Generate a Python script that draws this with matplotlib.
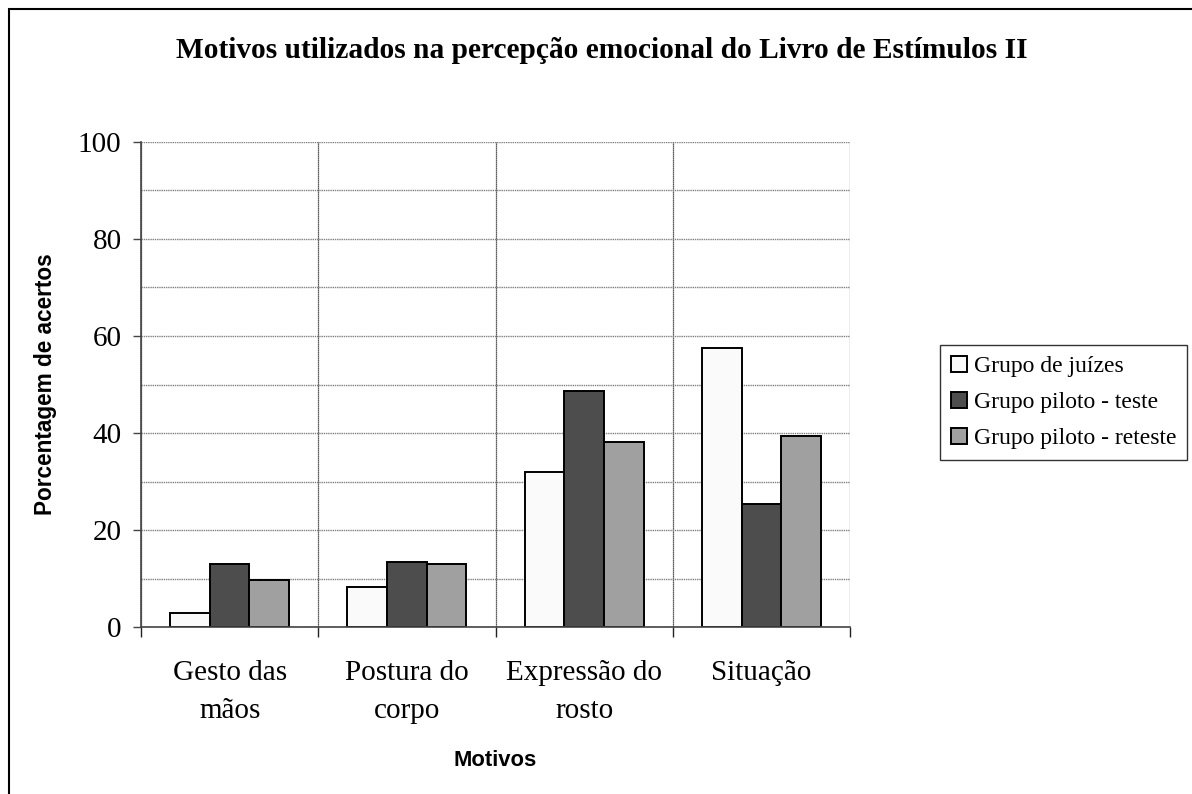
import numpy as np
import matplotlib
matplotlib.use("Agg")
import matplotlib.pyplot as plt
from matplotlib.patches import Rectangle
from matplotlib.ticker import MultipleLocator, FixedLocator

# data
categories = ["Gesto das\nmãos", "Postura do\ncorpo", "Expressão do\nrosto", "Situação"]
series_names = ["Grupo de juízes", "Grupo piloto - teste", "Grupo piloto - reteste"]
juizes = [2.8, 8.2, 32.0, 57.6]
piloto_teste = [12.9, 13.3, 48.7, 25.3]
piloto_reteste = [9.7, 12.9, 38.1, 39.4]

colors = ["#fafafa", "#4d4d4d", "#a0a0a0"]

SERIF = ["Liberation Serif", "DejaVu Serif"]
SANS = ["Liberation Sans", "DejaVu Sans"]

W, H = 1192, 794
fig = plt.figure(figsize=(W / 100, H / 100), dpi=100)
ax = fig.add_axes([141 / W, 1 - 627 / H, (850 - 141) / W, (627 - 142) / H])

x = np.arange(len(categories))
bw = 0.224
for i, (vals, name) in enumerate(zip([juizes, piloto_teste, piloto_reteste], series_names)):
    ax.bar(x + (i - 1) * bw, vals, width=bw, color=colors[i], edgecolor="black",
           linewidth=1.4, label=name, zorder=3)

ax.set_xlim(-0.5, len(categories) - 0.5)
ax.set_ylim(0, 100)

# y axis: labels every 20, grid every 10
ax.yaxis.set_major_locator(MultipleLocator(20))
ax.yaxis.set_minor_locator(MultipleLocator(10))
ax.tick_params(axis="y", which="major", direction="out", length=6, width=1, color="#444444", pad=8)
ax.tick_params(axis="y", which="minor", length=0)
ax.grid(axis="y", which="both", color="#808080", linestyle=(0, (1, 0.6)), linewidth=1.0, zorder=0)

# x axis: labels at centres, ticks + vertical grid at boundaries
ax.set_xticks(x)
ax.set_xticklabels(categories, fontsize=21, family=SERIF, linespacing=1.6)
ax.xaxis.set_minor_locator(FixedLocator(np.arange(-0.5, len(categories), 1.0)))
ax.tick_params(axis="x", which="major", length=0, pad=24)
ax.tick_params(axis="x", which="minor", direction="out", length=7, width=1, color="#222222")
ax.grid(axis="x", which="minor", color="#222222", linestyle=(0, (1, 0.6)), linewidth=0.9, zorder=0)

for lab in ax.get_yticklabels():
    lab.set_fontsize(21)
    lab.set_family(SERIF)

for s in ["top", "right"]:
    ax.spines[s].set_visible(False)
for s in ["left", "bottom"]:
    ax.spines[s].set_color("#444444")
    ax.spines[s].set_linewidth(1.2)
    ax.spines[s].set_zorder(4)

fig.text(602 / W, 1 - 51 / H, "Motivos utilizados na percepção emocional do Livro de Estímulos II",
         ha="center", va="center", fontsize=21.2, fontweight="bold", family=SERIF)
fig.text(46 / W, 1 - 384 / H, "Porcentagem de acertos", rotation=90, ha="center", va="center",
         fontsize=16.3, fontweight="bold", family=SANS)
fig.text(495 / W, 1 - 760 / H, "Motivos", ha="center", va="center",
         fontsize=15.8, fontweight="bold", family=SANS)

leg = fig.legend(loc="upper left", bbox_to_anchor=(940 / W, 1 - 345 / H), borderaxespad=0,
                 prop={"family": SERIF, "size": 17}, frameon=True, fancybox=False,
                 handlelength=0.68, handleheight=0.68, handletextpad=0.3,
                 labelspacing=0.62, borderpad=0.45)
leg.get_frame().set_edgecolor("black")
leg.get_frame().set_linewidth(1.0)

# outer chart border (only top and left edges fall inside the picture)
fig.patches.append(Rectangle((9 / W, -0.1), 1.2, 1.1 - 9 / H, transform=fig.transFigure,
                             fill=False, edgecolor="black", linewidth=1.5))

fig.savefig("out.png", dpi=100)
